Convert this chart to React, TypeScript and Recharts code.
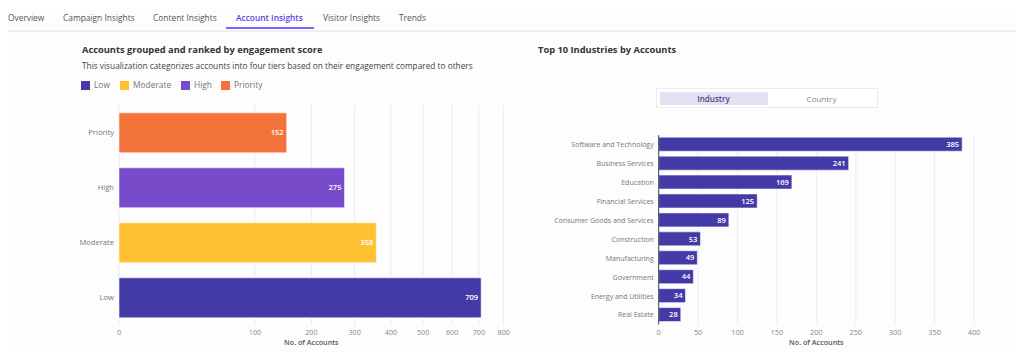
import React from "react";
import { BarChart, Bar, XAxis, YAxis, CartesianGrid, Cell, LabelList } from "recharts";

const tierNames = ["Priority", "High", "Moderate", "Low"];
const tierValues = [152, 275, 358, 709];
const tierColors = ["#f4733b", "#774bc9", "#fec134", "#433aa8"];
const tierTicks = [0, 100, 200, 300, 400, 500, 600, 700, 800];

const legendOrder = ["Low", "Moderate", "High", "Priority"];
const legendColors = ["#433aa8", "#fec134", "#774bc9", "#f4733b"];
const legendX = [81, 120, 181, 221];

const industryNames = [
  "Software and Technology",
  "Business Services",
  "Education",
  "Financial Services",
  "Consumer Goods and Services",
  "Construction",
  "Manufacturing",
  "Government",
  "Energy and Utilities",
  "Real Estate",
];
const industryValues = [385, 241, 169, 125, 89, 53, 49, 44, 34, 28];
const industryTicks = [0, 50, 100, 150, 200, 250, 300, 350, 400];

const tabs = ["Overview", "Campaign Insights", "Content Insights", "Account Insights", "Visitor Insights", "Trends"];
const tabX = [8, 63, 153, 236, 323, 399];

const FONT = "'Open Sans', sans-serif";

const tierData = tierNames.map((n, i) => ({ name: n, value: tierValues[i] }));
const industryData = industryNames.map((n, i) => ({ name: n, value: industryValues[i] }));

function makeYTick(fontSize: number, fill: string) {
  return (props: any) => {
    const { x, y, payload } = props;
    return (
      <text x={x} y={y} dy="0.35em" textAnchor="end" fontSize={fontSize} fill={fill} fontFamily={FONT}>
        {payload.value}
      </text>
    );
  };
}

export default function App() {
  return (
    <div style={{ position: "relative", margin: -8, width: 1024, height: 360, background: "#fdfdfd", fontFamily: FONT, overflow: "hidden" }}>
      {tabs.map((t, i) => (
        <div
          key={t}
          style={{
            position: "absolute",
            left: tabX[i],
            top: 10,
            fontSize: 8.4,
            lineHeight: "16px",
            color: i === 3 ? "#5b45e0" : "#555",
            fontWeight: i === 3 ? 600 : 400,
            whiteSpace: "nowrap",
          }}
        >
          {t}
        </div>
      ))}
      <div style={{ position: "absolute", left: 226, top: 26.5, width: 88, height: 2, background: "#7b61ff" }} />
      <div style={{ position: "absolute", left: 0, top: 30, width: 1024, height: 1.5, background: "#efefef" }} />

      <div style={{ position: "absolute", left: 82, top: 42, fontSize: 9.3, lineHeight: "16px", fontWeight: 700, color: "#333", whiteSpace: "nowrap" }}>
        Accounts grouped and ranked by engagement score
      </div>
      <div style={{ position: "absolute", left: 82, top: 58.5, fontSize: 8.3, lineHeight: "14px", color: "#444", whiteSpace: "nowrap" }}>
        This visualization categorizes accounts into four tiers based on their engagement compared to others
      </div>
      {legendOrder.map((l, i) => (
        <div key={l} style={{ position: "absolute", left: legendX[i], top: 78, display: "flex", alignItems: "center", fontSize: 8.4, color: "#777", whiteSpace: "nowrap" }}>
          <div style={{ width: 9, height: 9, background: legendColors[i], marginRight: 4 }} />
          <span style={{ lineHeight: "14px" }}>{l}</span>
        </div>
      ))}

      <div style={{ position: "absolute", left: 538, top: 42, fontSize: 9.3, lineHeight: "16px", fontWeight: 700, color: "#333", whiteSpace: "nowrap" }}>
        Top 10 Industries by Accounts
      </div>
      <div style={{ position: "absolute", left: 655.5, top: 87.5, width: 220, height: 18, border: "1px solid #ebebeb", background: "#fff", boxSizing: "content-box" }}>
        <div style={{ position: "absolute", left: 3, top: 3, width: 108, height: 13, background: "#e4e0f2" }} />
        <div style={{ position: "absolute", left: 3, top: 0, width: 108, height: 19, lineHeight: "19px", textAlign: "center", fontSize: 8, fontWeight: 600, color: "#4a4580" }}>
          Industry
        </div>
        <div style={{ position: "absolute", left: 111, top: 0, width: 108, height: 19, lineHeight: "19px", textAlign: "center", fontSize: 8, color: "#888" }}>
          Country
        </div>
      </div>

      <div style={{ position: "absolute", left: 0, top: 100 }}>
        <BarChart
          width={520}
          height={260}
          data={tierData}
          layout="vertical"
          margin={{ top: 4.8, right: 16.3, bottom: 5.2, left: 59 }}
          barCategoryGap={15}
        >
          <CartesianGrid horizontal={false} vertical stroke="#ececec" />
          <XAxis
            type="number"
            scale="sqrt"
            domain={[0, 800]}
            ticks={tierTicks}
            interval={0}
            axisLine={false}
            tickLine={false}
            tickSize={3}
            height={30}
            tick={{ fontSize: 7.2, fill: "#888", fontFamily: FONT }}
            label={{ value: "No. of Accounts", position: "insideBottom", offset: 10, fontSize: 7.2, fill: "#555", fontWeight: 600, fontFamily: FONT }}
          />
          <YAxis
            type="category"
            dataKey="name"
            width={60}
            axisLine={false}
            tickLine={false}
            tickSize={3}
            tickMargin={2}
            tick={makeYTick(7.6, "#777")}
          />
          <Bar dataKey="value" isAnimationActive={false} barSize={40} stroke="#ffffff" strokeOpacity={0.55} strokeWidth={1}>
            {tierData.map((d, i) => (
              <Cell key={d.name} fill={tierColors[i]} />
            ))}
            <LabelList dataKey="value" position="insideRight" offset={3} style={{ fontSize: 7.6, fill: "#fff", fontWeight: 600, fontFamily: FONT }} />
          </Bar>
        </BarChart>
      </div>

      <div style={{ position: "absolute", left: 520, top: 120 }}>
        <BarChart
          width={504}
          height={240}
          data={industryData}
          layout="vertical"
          margin={{ top: 15.2, right: 50, bottom: 5.5, left: 8.7 }}
        >
          <CartesianGrid horizontal={false} vertical stroke="#ececec" />
          <XAxis
            type="number"
            domain={[0, 400]}
            ticks={industryTicks}
            interval={0}
            axisLine={false}
            tickLine={false}
            tickSize={3}
            height={30}
            tick={{ fontSize: 7.4, fill: "#888", fontFamily: FONT }}
            label={{ value: "No. of Accounts", position: "insideBottom", offset: 10, fontSize: 7.2, fill: "#555", fontWeight: 600, fontFamily: FONT }}
          />
          <YAxis
            type="category"
            dataKey="name"
            width={130}
            axisLine={{ stroke: "#444", strokeWidth: 1 }}
            tickLine={false}
            tickSize={3}
            tickMargin={2}
            interval={0}
            tick={makeYTick(7, "#777")}
          />
          <Bar dataKey="value" isAnimationActive={false} barSize={14} fill="#433aa8" stroke="#ffffff" strokeOpacity={0.55} strokeWidth={1}>
            <LabelList dataKey="value" position="insideRight" offset={3} style={{ fontSize: 7.6, fill: "#fff", fontWeight: 600, fontFamily: FONT }} />
          </Bar>
        </BarChart>
      </div>
    </div>
  );
}
